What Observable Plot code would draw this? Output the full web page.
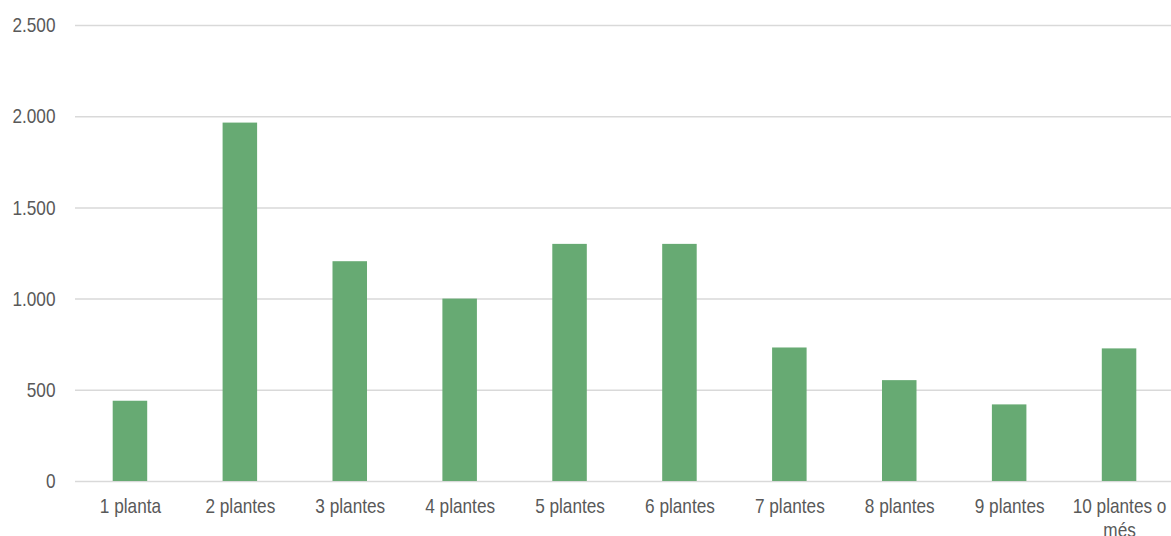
<!DOCTYPE html>
<html>
<head>
<meta charset="utf-8">
<script src="https://cdn.jsdelivr.net/npm/d3@7"></script>
<script src="https://cdn.jsdelivr.net/npm/@observablehq/plot@0.6"></script>
<style>
  html, body { margin: 0; padding: 0; background: #fff; }
  #chart svg { display: block; }
</style>
</head>
<body>
<div id="chart"></div>
<script>
const categories = ["1 planta", "2 plantes", "3 plantes", "4 plantes", "5 plantes", "6 plantes", "7 plantes", "8 plantes", "9 plantes", "10 plantes o més"];
const values = [440, 1965, 1205, 1000, 1300, 1300, 732, 553, 420, 727];
const yTicks = [0, 500, 1000, 1500, 2000, 2500];
const xLabels = ["1 planta", "2 plantes", "3 plantes", "4 plantes", "5 plantes", "6 plantes", "7 plantes", "8 plantes", "9 plantes", "10 plantes o\nmés"];

const data = categories.map((c, i) => ({category: c, value: values[i]}));
const fmt = d3.formatLocale({decimal: ",", thousands: ".", grouping: [3], currency: ["", " €"]}).format(",");
const labelOf = new Map(categories.map((c, i) => [c, xLabels[i]]));
const font = "'Liberation Sans', Arial, sans-serif";

const chart = Plot.plot({
  width: 1171,
  height: 536,
  marginLeft: 75,
  marginRight: 0,
  marginTop: 25,
  marginBottom: 55,
  style: {fontFamily: font, fontSize: "21px", color: "#595959", background: "#fff"},
  x: {domain: categories, range: [75, 1174], round: false, paddingInner: 0.686, paddingOuter: 0.343, label: null},
  y: {domain: [0, 2500], label: null},
  marks: [
    Plot.gridY(yTicks, {stroke: "#d9d9d9", strokeOpacity: 1, strokeWidth: 1.5}),
    Plot.barY(data, {x: "category", y: "value", fill: "#67aa73"}),
    Plot.axisY(yTicks, {tickSize: 0, tickPadding: 20, tickFormat: fmt, fill: "#595959", fontSize: 21, className: "narrow"}),
    Plot.axisX({tickSize: 0, tickPadding: 15, tickFormat: d => labelOf.get(d), fill: "#595959", fontSize: 21, lineHeight: 1.12, className: "narrow"})
  ]
});
// condense the axis labels horizontally (Arial Narrow look), anchored at each label's own position
chart.querySelectorAll("text").forEach(t => {
  const tr = t.getAttribute("transform");
  if (tr && tr.includes("translate")) t.setAttribute("transform", tr + " scale(0.82,1)");
});
document.getElementById("chart").appendChild(chart);
</script>
</body>
</html>
